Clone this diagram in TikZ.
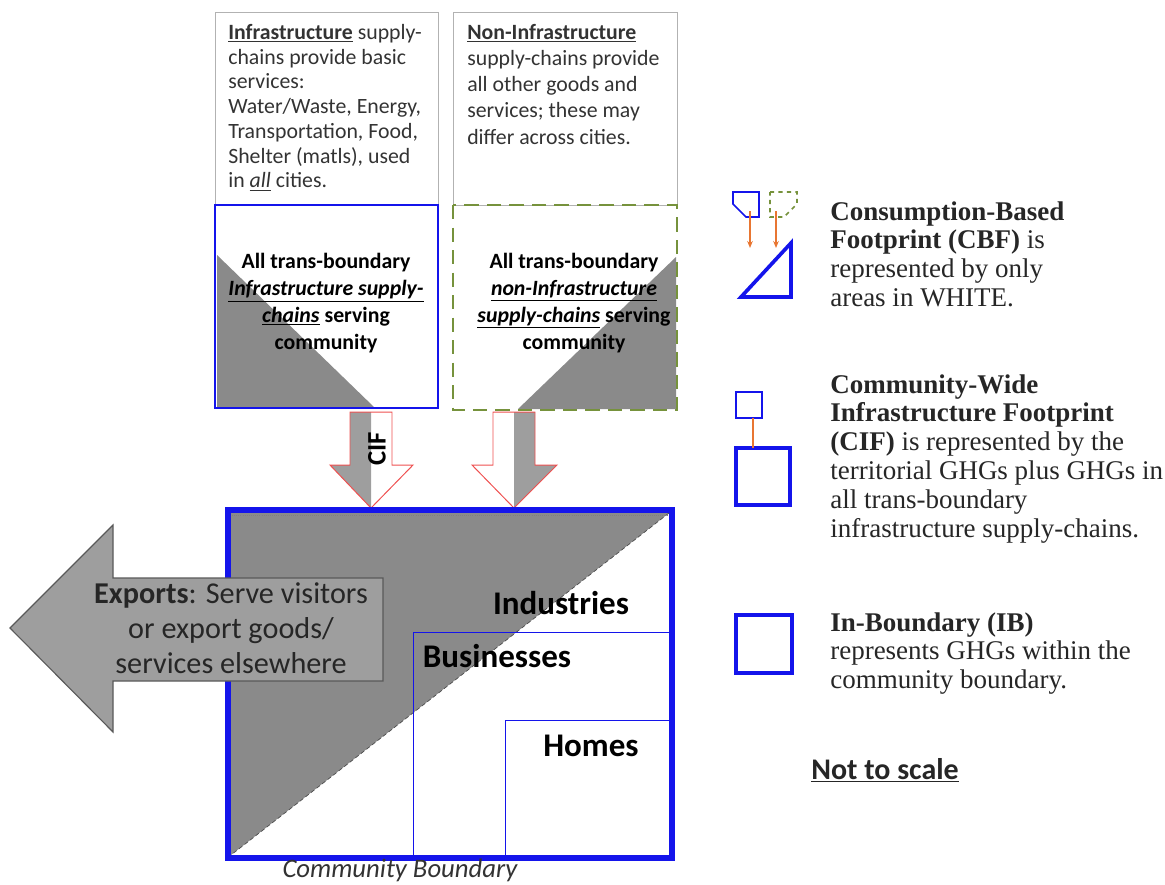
\documentclass[tikz,border=0pt]{standalone}
\usepackage{fontspec}
\setmainfont{Carlito}
\newfontfamily\legendfont{Liberation Serif}
\usetikzlibrary{positioning,arrows.meta}

\definecolor{boxblue}{RGB}{20,20,235}
\definecolor{dashgreen}{RGB}{118,146,60}
\definecolor{trigrey}{RGB}{138,138,138}
\definecolor{arrowgrey}{RGB}{158,158,158}
\definecolor{arrowred}{RGB}{238,80,80}
\definecolor{legorange}{RGB}{232,118,50}

\begin{document}
\begin{tikzpicture}[x=0.025cm,y=-0.025cm,
	boxtxt/.style={font=\fontsize{15.5}{17.6}\selectfont,align=left,inner sep=0pt,text=black!80},
	midtxt/.style={font=\fontsize{15.5}{19}\selectfont\bfseries,align=center,inner sep=0pt},
	sectortxt/.style={font=\fontsize{23.5}{26}\selectfont\bfseries,inner sep=0pt},
	legtxt/.style={font=\legendfont\fontsize{19.2}{20.6}\selectfont,align=left,inner sep=0pt,anchor=north west,text=black!85},
	cifarrow/.style={draw=arrowred,line width=0.7pt,line join=miter},
	iconline/.style={boxblue,line width=1.2pt},
	iconthick/.style={boxblue,line width=2.6pt},
	legarrow/.style={legorange,line width=1.1pt,-{Stealth[length=5pt,width=4pt]}}]
\useasboundingbox (0,0) rectangle (1165,884);

% upper boxes
\draw[gray!60,line width=0.6pt] (215,12) rectangle (438,205);
\draw[gray!60,line width=0.6pt] (453,12) rectangle (677,205);
\node[boxtxt,anchor=north west] (infratext) at (228,24) {\underline{\textbf{Infrastructure}} supply-\\chains provide basic\\services:\\Water/Waste, Energy,\\Transportation, Food,\\Shelter (matls), used\\in \underline{\textit{all}} cities.};
\node[boxtxt,anchor=north west,font=\fontsize{15.5}{18.6}\selectfont] (noninfratext) at (467,24) {\underline{\textbf{Non-Infrastructure}}\\supply-chains provide\\all other goods and\\services; these may\\differ across cities.};

\fill[trigrey] (217,255) -- (217,407) -- (374,407) -- cycle;
\fill[trigrey] (676,257) -- (676,409) -- (518,409) -- cycle;
\draw[boxblue,line width=2pt] (215,205) rectangle (438,408);
\draw[dashgreen,line width=2pt,dash pattern=on 10pt off 6pt] (453,205) rectangle (677,410);
\node[midtxt] (infrachains) at (326,303) {All trans-boundary\\\underline{\textit{Infrastructure supply-}}\\\underline{\textit{chains}} serving\\community};
\node[midtxt] (noninfrachains) at (574,303) {All trans-boundary\\\underline{\textit{non-Infrastructure}}\\\underline{\textit{supply-chains}} serving\\community};

% down arrows
\fill[arrowgrey] (350,412) -- (371,412) -- (371,508) -- (330,465) -- (350,465) -- cycle;
\draw[cifarrow] (350,412) -- (392,412) -- (392,465) -- (413,465) -- (371,508) -- (330,465) -- (350,465) -- cycle;
\node[font=\fontsize{19}{20}\selectfont\bfseries,rotate=90,inner sep=0pt] (ciflabel) at (377,449) {CIF};
\fill[arrowgrey] (514,412) -- (535,412) -- (535,465) -- (557,465) -- (514,508) -- cycle;
\draw[cifarrow] (493,412) -- (535,412) -- (535,465) -- (557,465) -- (514,508) -- (472,465) -- (493,465) -- cycle;

% community
\fill[trigrey] (231,513) -- (669,513) -- (231,855) -- cycle;
\draw[black!70,densely dashed,line width=0.5pt] (669,513) -- (231,855);
\draw[black!50,densely dotted,line width=0.5pt] (232,515) -- (668,515);
\draw[boxblue,line width=0.6pt] (413,632) rectangle (672,858);
\draw[boxblue,line width=0.6pt] (505,720) rectangle (672,858);
\draw[boxblue,line width=4pt] (228,510) rectangle (672,858);
\node[sectortxt] (industries) at (561,603) {Industries};
\node[sectortxt] (businesses) at (497,656) {Businesses};
\node[sectortxt] (homes) at (591,746) {Homes};
\node[font=\fontsize{19}{20}\selectfont\itshape,inner sep=0pt,text=black!80] (boundary) at (400,870) {Community Boundary};

% exports
\draw[fill=arrowgrey,draw=black!65,line width=0.8pt] (10,628) -- (113,525) -- (113,578) -- (383,578) -- (383,681) -- (113,681) -- (113,732) -- cycle;
\node[font=\fontsize{21.5}{25}\selectfont,align=center,inner sep=0pt,text=black!85] (exports) at (231,628) {\textbf{Exports}: Serve visitors\\or export goods/\\services elsewhere};

% legend
\draw[iconline] (733,192) -- (759,192) -- (759,217) -- (746,217) -- (733,204) -- cycle;
\draw[dashgreen,line width=1.2pt,dashed] (770,192) -- (797,192) -- (797,204) -- (784,217) -- (770,217) -- cycle;
\draw[iconthick,line join=miter] (741,297) -- (791,243) -- (791,297) -- cycle;
\coordinate (cbfa) at (750,211);
\coordinate (cbfb) at (776,211);
\draw[legarrow] (cbfa) -- ++(0,37);
\draw[legarrow] (cbfb) -- ++(0,37);
\node[legtxt] (cbftext) at (830,201) {\textbf{Consumption-Based}\\\textbf{Footprint (CBF)} is\\represented by only\\areas in WHITE.};

\draw[iconline] (736,392) rectangle (762,418);
\draw[iconthick] (736,448) rectangle (790,505);
\coordinate (cifa) at (753,418);
\coordinate (cifb) at (753,448);
\draw[legorange,line width=1.1pt] (cifa) -- (cifb);
\node[legtxt] (ciftext) at (830,374) {\textbf{Community-Wide}\\\textbf{Infrastructure Footprint}\\\textbf{(CIF)} is represented by the\\territorial GHGs plus GHGs in\\all trans-boundary\\infrastructure supply-chains.};

\draw[iconthick] (736,615) rectangle (792,673);
\node[legtxt] (ibtext) at (830,612) {\textbf{In-Boundary (IB)}\\represents GHGs within the\\community boundary.};

\node[font=\fontsize{21.3}{23}\selectfont\bfseries,inner sep=0pt,text=black!85] (scale) at (885,770) {\underline{Not to scale}};
\end{tikzpicture}
\end{document}
